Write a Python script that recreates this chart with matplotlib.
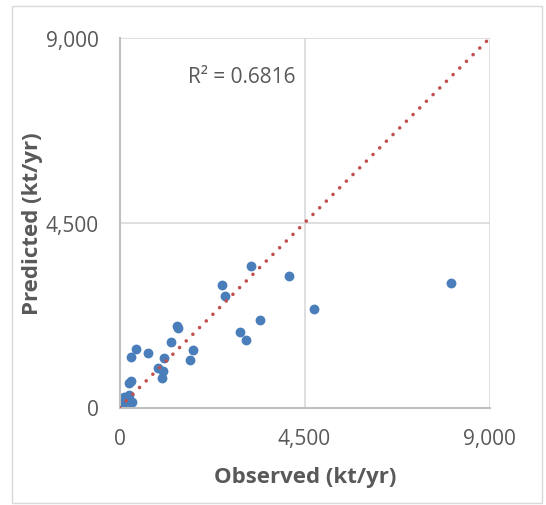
import matplotlib.pyplot as plt
from matplotlib.patches import Rectangle

# observed vs predicted sediment load (kt/yr)
observed = [3203, 4127, 8060, 2500, 2568, 4737, 3415, 1398, 1415, 2941,
            3068, 1254, 390, 1797, 686, 280, 1085, 1712, 941, 1059,
            1034, 271, 229, 102, 229, 297, 17, 76, 144, 200, 40, 60, 120, 250]
predicted = [3447, 3211, 3024, 2984, 2724, 2390, 2122, 1976, 1927, 1846,
             1642, 1585, 1423, 1407, 1333, 1236, 1211, 1146, 951, 886,
             707, 650, 593, 260, 300, 122, 0, 81, 40, 180, 20, 110, 210, 90]
r2_text = "R² = 0.6816"
ticks = [0, 4500, 9000]
tick_labels = ["0", "4,500", "9,000"]

gray = "#595959"
plt.rcParams['font.family'] = ['Open Sans', 'DejaVu Sans']

fig = plt.figure(figsize=(5.46, 5.06), dpi=100)
fig.patches.append(Rectangle((12 / 546, 2 / 506), 530 / 546, 497 / 506,
                             transform=fig.transFigure, fill=False,
                             edgecolor="#D9D9D9", linewidth=1))
ax = fig.add_axes([119.5 / 546, 1 - 408.5 / 506, 370 / 546, 369.2 / 506])

# trendline (1:1)
ax.plot([0, 9000], [0, 9000], linestyle=(0, (0.01, 2.6)), color="#C0504D",
        linewidth=2.6, dash_capstyle='round', zorder=3)
ax.scatter(observed, predicted, s=50, color="#4A7EBB", zorder=2, linewidths=0)

ax.set_xlim(0, 9000)
ax.set_ylim(0, 9000)
ax.set_xticks(ticks)
ax.set_yticks(ticks)
ax.set_xticklabels(tick_labels)
ax.set_yticklabels(tick_labels)
ax.tick_params(length=0, labelsize=15, colors=gray)
ax.tick_params(axis='x', pad=15)
ax.tick_params(axis='y', pad=15)
ax.grid(True, color="#D9D9D9", linewidth=1.2)
ax.set_axisbelow(True)
for side in ["top", "right"]:
    ax.spines[side].set_visible(False)
for side in ["left", "bottom"]:
    ax.spines[side].set_color("#BFBFBF")
    ax.spines[side].set_linewidth(1.5)

ax.text(1660, 8080, r2_text, fontsize=15, color=gray, va='center')

fig.text(305 / 546, 1 - 478 / 506, "Observed (kt/yr)", fontsize=16,
         fontweight='bold', color=gray, ha='center', va='center')
fig.text(33 / 546, 1 - 224 / 506, "Predicted (kt/yr)", fontsize=16,
         fontweight='bold', color=gray, ha='center', va='center', rotation=90)

plt.savefig("out.png", dpi=100)
